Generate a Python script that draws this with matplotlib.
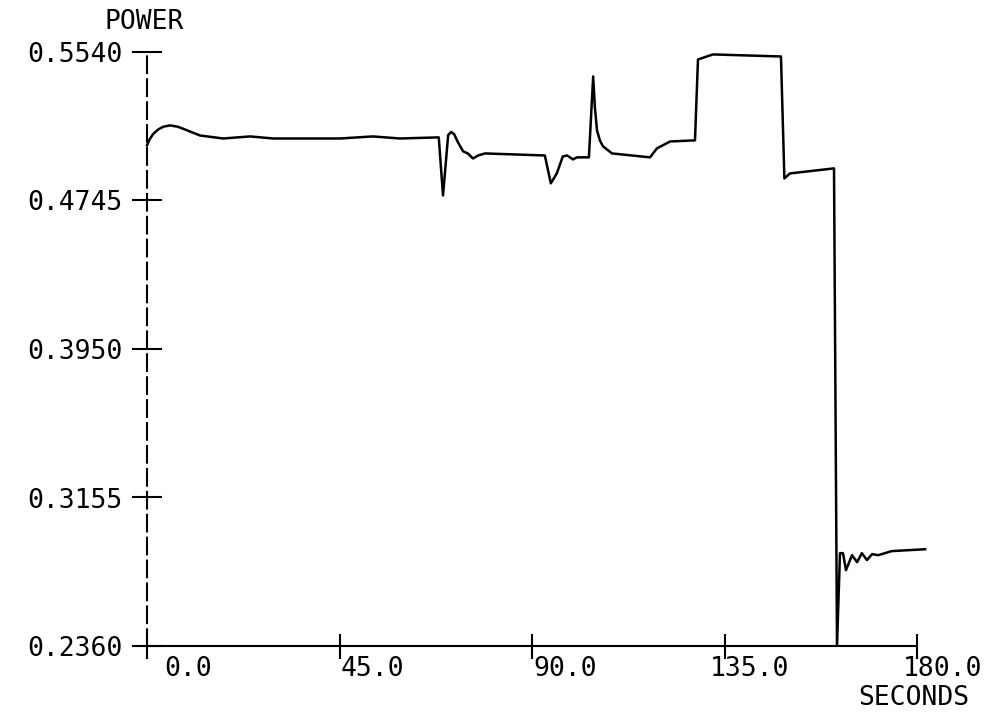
import matplotlib
matplotlib.use('Agg')
import matplotlib.pyplot as plt
import matplotlib.transforms as mtransforms

# time (s) and power
time_s = [0.0, 0.6, 1.4, 2.6, 3.8, 5.4, 7.2, 8.9, 12.4, 17.8, 24.1, 29.5, 45.1, 52.8,
          59.1, 68.2,
          69.2, 70.4, 71.1, 71.8, 72.7, 73.9, 75.0, 76.2, 77.4, 79.0, 93.0,
          94.4, 95.8, 97.2, 98.2, 99.6, 100.5, 103.3, 104.3, 104.7, 105.2,
          105.9, 106.6, 108.7, 117.6, 119.2, 122.3, 128.1, 128.8, 132.3, 148.2,
          149.0, 150.3, 160.6, 161.3, 162.0, 162.7, 163.4, 164.8, 166.0,
          167.1, 168.3, 169.5, 170.9, 174.1, 181.9]
power = [0.5040, 0.5072, 0.5100, 0.5125, 0.5140, 0.5147, 0.5140, 0.5125, 0.5093,
         0.5077, 0.5088, 0.5077, 0.5077, 0.5088, 0.5077, 0.5083,
         0.4772, 0.5095, 0.5112, 0.5100, 0.5056, 0.5008, 0.4997, 0.4970, 0.4986,
         0.4997, 0.4986,
         0.4837, 0.4890, 0.4981, 0.4986, 0.4965, 0.4976, 0.4976, 0.5409, 0.5243,
         0.5120, 0.5065, 0.5035, 0.4997, 0.4976, 0.5024, 0.5061, 0.5067, 0.5500,
         0.5527, 0.5516,
         0.4863, 0.4890, 0.4917, 0.2362, 0.2857, 0.2857, 0.2766, 0.2846, 0.2809,
         0.2857, 0.2820, 0.2852, 0.2846, 0.2868, 0.2878]

x_ticks = [0.0, 45.0, 90.0, 135.0, 180.0]
x_tick_labels = ['0.0', '45.0', '90.0', '135.0', '180.0']
y_ticks = [0.2360, 0.3155, 0.3950, 0.4745, 0.5540]
y_tick_labels = ['0.2360', '0.3155', '0.3950', '0.4745', '0.5540']

font = 'DejaVu Sans Mono'
fs = 19

fig = plt.figure(figsize=(9.9, 7.18), dpi=100)
ax = fig.add_axes([147 / 990, 1 - 646 / 718, 770 / 990, 594 / 718])

ax.plot(time_s, power, color='black', linewidth=1.8, clip_on=False)

ax.set_xlim(0, 180)
ax.set_ylim(0.236, 0.554)

for side in ['top', 'right']:
    ax.spines[side].set_visible(False)
ax.spines['bottom'].set_linewidth(1.5)
ax.spines['left'].set_linewidth(1.5)
ax.spines['left'].set_linestyle((0, (8, 3)))

ax.set_yticks(y_ticks)
ax.set_yticklabels(y_tick_labels, fontfamily=font, fontsize=fs)
ax.tick_params(axis='y', direction='inout', length=21, width=1.5, pad=7)

# x labels sit to the right of their ticks, so draw them by hand
ax.set_xticks(x_ticks)
ax.set_xticklabels([])
ax.tick_params(axis='x', direction='inout', length=18, width=1.5)
trans = mtransforms.offset_copy(ax.get_xaxis_transform(), fig=fig, x=65, y=-23, units='dots')
for xv, lab in zip(x_ticks, x_tick_labels):
    ax.text(xv, 0, lab, transform=trans, ha='right', va='center',
            fontfamily=font, fontsize=fs, clip_on=False)

fig.text(144 / 990, 1 - 22 / 718, 'POWER', ha='center', va='center',
         fontfamily=font, fontsize=fs)
fig.text(914 / 990, 1 - 698 / 718, 'SECONDS', ha='center', va='center',
         fontfamily=font, fontsize=fs)

fig.savefig('out.png', dpi=100)
